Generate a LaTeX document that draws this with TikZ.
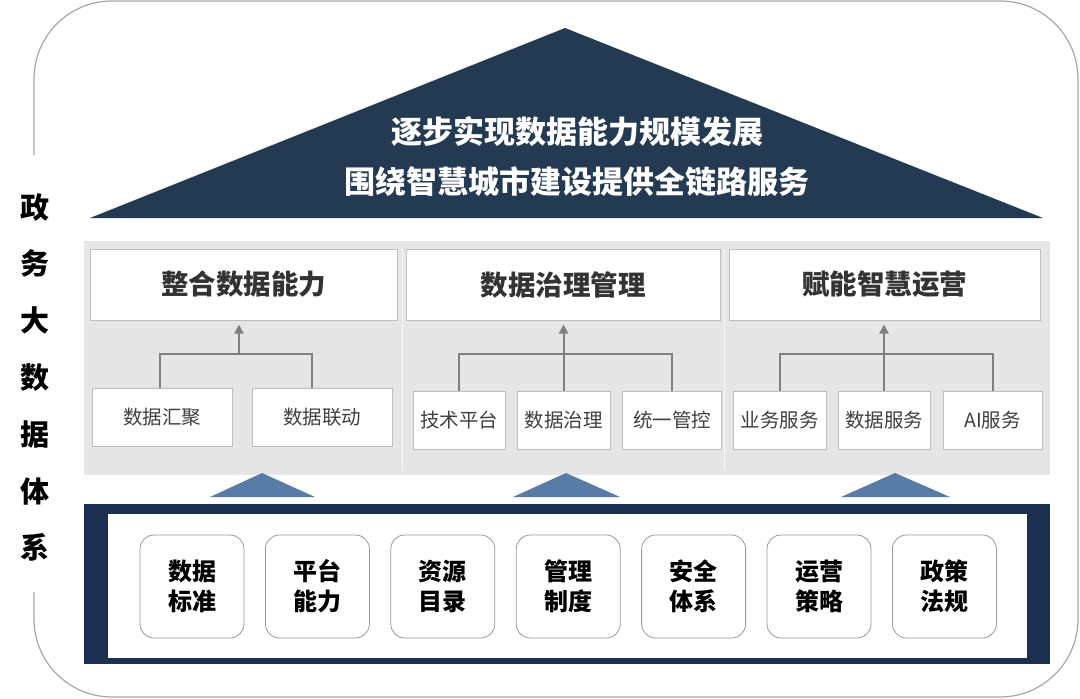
\documentclass[tikz,border=0pt]{standalone}
\usepackage{fontspec}
\setmainfont{Noto Sans CJK SC}
\usetikzlibrary{arrows.meta}
\definecolor{roofblue}{RGB}{36,58,82}
\definecolor{framenavy}{RGB}{27,48,80}
\definecolor{steel}{RGB}{88,124,166}
\definecolor{bandgrey}{RGB}{230,230,230}
\definecolor{boxline}{RGB}{190,190,190}
\definecolor{arrgrey}{RGB}{128,128,128}
\tikzset{
  titlebox/.style={draw=boxline, line width=1pt, fill=white, minimum height=71pt,
    inner sep=0pt, text=black!80, font=\fontsize{27.5}{30}\selectfont\bfseries},
  itembox/.style={draw=boxline, line width=1pt, fill=white, minimum height=58pt,
    inner sep=0pt, text=black!75, font=\fontsize{19.5}{22}\selectfont},
  basebox/.style={draw=black!40, line width=0.8pt, fill=white, rounded corners=14pt,
    minimum width=104pt, minimum height=103pt, inner sep=0pt, align=center,
    font=\fontsize{24}{30}\selectfont\bfseries},
  arr/.style={draw=arrgrey, line width=2pt, -{Triangle[length=9pt,width=9pt]}},
  link/.style={draw=arrgrey, line width=2pt},
}
\begin{document}
\begin{tikzpicture}[x=1pt, y=-1pt]
  \useasboundingbox (0,0) rectangle (1080,699);
  \fill[white] (0,0) rectangle (1080,699);
  % outer frame, open on the left for the side title
  \draw[black!35, line width=1.2pt, rounded corners=78pt]
    (34,155) -- (34,1) -- (1078,1) -- (1078,697) -- (34,697) -- (34,592);
  \node[font=\fontsize{29}{56.8}\selectfont\bfseries, align=center] (side) at (35,377.5)
    {政\\务\\大\\数\\据\\体\\系};

  % roof
  \fill[roofblue] (90,218) -- (565,28) -- (1043,218) -- cycle;
  \node[text=white, align=center, font=\fontsize{31}{50}\selectfont\bfseries] (roof) at (577,157)
    {逐步实现数据能力规模发展\\围绕智慧城市建设提供全链路服务};

  % middle band
  \fill[bandgrey] (84,241) rectangle (1050,475);
  \draw[white, line width=1pt, opacity=0.7] (402,249) -- (402,470);
  \draw[white, line width=1pt, opacity=0.7] (724,249) -- (724,470);

  \node[titlebox, minimum width=307pt] (t1) at (243.5,284.5) {整合数据能力};
  \node[titlebox, minimum width=314pt] (t2) at (563,284.5) {数据治理管理};
  \node[titlebox, minimum width=311pt] (t3) at (884.5,284.5) {赋能智慧运营};

  \node[itembox, minimum width=140pt] (s11) at (162,417.5) {数据汇聚};
  \node[itembox, minimum width=140pt] (s12) at (322,417.5) {数据联动};
  \node[itembox, minimum width=92pt] (s21) at (459,420) {技术平台};
  \node[itembox, minimum width=93pt] (s22) at (563.5,420) {数据治理};
  \node[itembox, minimum width=99pt] (s23) at (672,420) {统一管控};
  \node[itembox, minimum width=93pt] (s31) at (779.5,420) {业务服务};
  \node[itembox, minimum width=92pt] (s32) at (884,420) {数据服务};
  \node[itembox, minimum width=99pt] (s33) at (992.5,420) {AI服务};

  % connectors
  \coordinate (j1) at (239,354);
  \draw[link] (s11.north -| 160,0) |- (j1) -| (s12.north -| 312,0);
  \draw[arr, shorten >=4pt] (j1) -- (t1.south -| j1);
  \coordinate (j2) at (563.5,354);
  \draw[link] (s21.north) |- (j2) -| (s23.north);
  \draw[arr, shorten >=4pt] (s22.north) -- (t2.south -| s22.north);
  \coordinate (j3) at (884,354);
  \draw[link] (s31.north) |- (j3) -| (s33.north);
  \draw[arr, shorten >=4pt] (s32.north) -- (t3.south -| s32.north);

  % small roofs
  \foreach \x/\l/\r in {262/210/315, 566/513/620, 895/841/950} {
    \fill[steel] (\l,497) -- (\x,473) -- (\r,497) -- cycle;
  }

  % base frame
  \fill[framenavy] (84,504) rectangle (1050,664);
  \fill[white] (108,514) rectangle (1027,658);
  \foreach \i/\t in {1/数据\\标准, 2/平台\\能力, 3/资源\\目录, 4/管理\\制度,
                     5/安全\\体系, 6/运营\\策略, 7/政策\\法规} {
    \node[basebox] (b\i) at ({192+125.4*(\i-1)},586.5) {\t};
  }
\end{tikzpicture}
\end{document}
